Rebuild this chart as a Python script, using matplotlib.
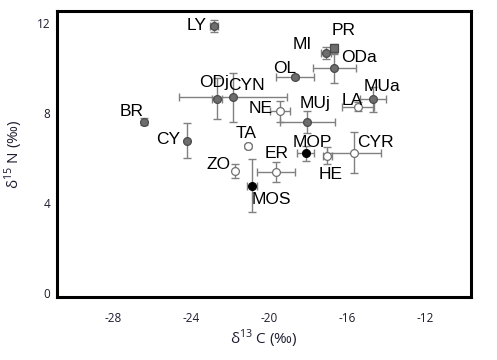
import numpy as np
import matplotlib
matplotlib.use('Agg')
import matplotlib.pyplot as plt

plt.rcParams['axes.unicode_minus'] = False

# species codes and isotope means / SD
labels = ['LY', 'MI', 'PR', 'ODa', 'OL', 'MUa', 'LA', 'MUj', 'NE', 'CYN', 'ODj',
          'BR', 'CY', 'TA', 'ZO', 'ER', 'MOP', 'MOS', 'HE', 'CYR']
d13c = [-22.8, -17.09, -16.65, -16.65, -18.67, -14.65, -15.42, -18.04, -19.44, -21.86, -22.68,
        -26.39, -24.19, -21.09, -21.74, -19.66, -18.12, -20.87, -17.01, -15.63]
d15n = [11.87, 10.65, 10.88, 9.99, 9.59, 8.61, 8.28, 7.61, 8.07, 8.69, 8.64,
        7.61, 6.77, 6.53, 5.42, 5.39, 6.21, 4.77, 6.10, 6.24]
c_sd = [0.2, 0.26, 0.1, 1.09, 0.97, 0.67, 0.83, 1.42, 0.5, 2.77, 0.25,
        0.0, 0.0, 0.1, 0.0, 0.97, 0.44, 0.24, 0.23, 1.39]
n_sd = [0.27, 0.27, 0.2, 0.64, 0.1, 0.55, 0.2, 0.49, 0.48, 1.1, 0.91,
        0.15, 0.79, 0.1, 0.3, 0.44, 0.33, 1.18, 0.37, 0.93]
# g = grey filled, o = open, k = black, s = grey square
kind = ['g', 'g', 's', 'g', 'g', 'g', 'o', 'g', 'o', 'g', 'g',
        'g', 'g', 'o', 'o', 'o', 'k', 'k', 'o', 'o']

# label offsets from the point, pixels (x right, y up)
lab_dx = [-17.6, -23, 9.7, 24.4, -10.5, 8.7, -5.6, 7.7, -19.2, 13.6, -2.2,
          -12.6, -19, -1.4, -17, 1.3, 6.8, 19.2, 3.2, 21.4]
lab_dy = [0.2, 9, 17.3, 10.5, 9, 13, 6.4, 18.7, 2.5, 11.7, 16,
          10, 1.5, 12.3, 6.3, 18, 10.3, -13.6, -19.3, 10]

styles = {
    'g': dict(marker='o', mfc='#6d6d6d', mec='#4a4a4a'),
    's': dict(marker='s', mfc='#6d6d6d', mec='#4a4a4a'),
    'o': dict(marker='o', mfc='white', mec='#707070'),
    'k': dict(marker='o', mfc='black', mec='black'),
}

fig = plt.figure(figsize=(4.97, 3.6), dpi=100)
ax = fig.add_axes([0.1147, 0.175, 0.833, 0.7944])

for i in range(len(labels)):
    st = styles[kind[i]]
    ax.errorbar(d13c[i], d15n[i], xerr=c_sd[i], yerr=n_sd[i], fmt='none',
                ecolor='#808080', elinewidth=1.0, capsize=2.6, capthick=1.0, zorder=2)
    ax.plot(d13c[i], d15n[i], ls='none', ms=5.6, mew=0.9, zorder=3, **st)
    ax.annotate(labels[i], (d13c[i], d15n[i]), xytext=(lab_dx[i], lab_dy[i]),
                textcoords='offset pixels', ha='center', va='center',
                fontsize=12.5, family='Liberation Sans', color='black', zorder=4)

ax.set_xlim(-30.87, -9.64)
ax.set_ylim(-0.18, 12.53)
ax.set_xticks([-28, -24, -20, -16, -12])
ax.set_yticks([0, 4, 8, 12])
ax.tick_params(length=0, labelsize=8.5, labelcolor='#1c1c30')
ax.tick_params(axis='x', pad=11)
ax.tick_params(axis='y', pad=5)
for lbl in ax.get_xticklabels() + ax.get_yticklabels():
    lbl.set_family('Open Sans')
for sp in ax.spines.values():
    sp.set_linewidth(2.2)
    sp.set_color('black')

ax.set_xlabel(r'δ$^{\mathregular{13}}$ C (‰)', fontsize=11, color='#1c1c30',
              family='Open Sans', labelpad=2)
ax.set_ylabel(r'δ$^{\mathregular{15}}$ N (‰)', fontsize=11, color='#1c1c30',
              family='Open Sans', labelpad=8)

fig.savefig('out.png', dpi=100)
